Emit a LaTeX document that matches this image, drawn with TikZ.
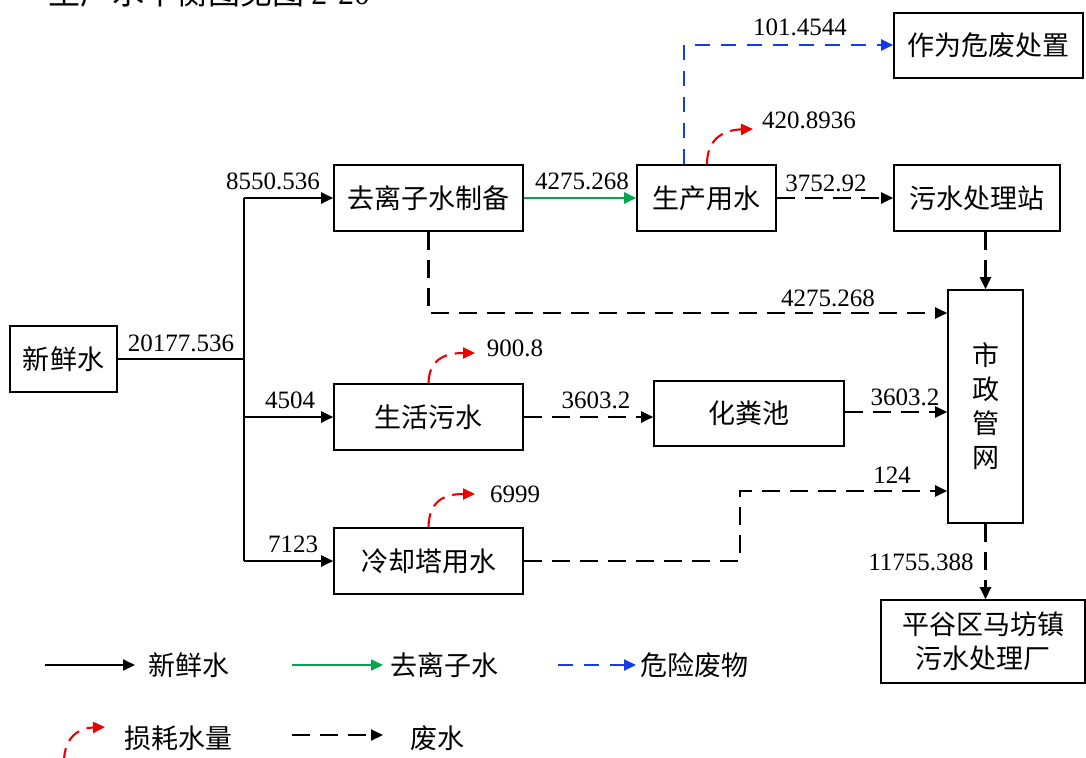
\documentclass[tikz,border=0pt]{standalone}
\usepackage{fontspec}
\setmainfont{Liberation Serif}
\newfontfamily\cjk{Noto Sans CJK SC}
\usetikzlibrary{arrows.meta}
\definecolor{fgreen}{RGB}{0,166,80}
\definecolor{fblue}{RGB}{20,60,230}
\definecolor{fred}{RGB}{235,0,0}
\tikzset{
  box/.style={draw, line width=1.6pt, inner sep=0pt, align=center,
    font=\cjk\fontsize{27}{34}\selectfont},
  num/.style={inner sep=0pt, font=\fontsize{25}{25}\selectfont},
  legtext/.style={anchor=west, inner sep=0pt, font=\cjk\fontsize{27}{30}\selectfont},
  tip/.style={-{Triangle[length=12pt,width=11pt]}},
  fresh/.style={tip, line width=2.1pt, black},
  deio/.style={tip, line width=2.1pt, fgreen},
  hazw/.style={tip, line width=2.1pt, fblue, dash pattern=on 15pt off 11pt},
  waste/.style={tip, line width=2.1pt, black, dash pattern=on 18pt off 10pt},
  loss/.style={tip, line width=2.1pt, fred, dash pattern=on 14pt off 8pt},
}
\begin{document}
\begin{tikzpicture}[x=1pt,y=-1pt]
\useasboundingbox (0,0) rectangle (1086,757);

% partially cut-off caption line
\node[anchor=base west, inner sep=0pt, font=\cjk\fontsize{32}{32}\selectfont] (cap) at (48,5) {生产水平衡图见图 {\rmfamily 2-20}};

% boxes
\node[box, minimum width=107pt, minimum height=66pt] (fw) at (63.5,359) {新鲜水};
\node[box, minimum width=189pt, minimum height=66pt] (deion) at (428.5,198) {去离子水制备};
\node[box, minimum width=139pt, minimum height=66pt] (prod) at (706.5,198) {生产用水};
\node[box, minimum width=189pt, minimum height=65pt] (haz) at (988.5,45.5) {作为危废处置};
\node[box, minimum width=166pt, minimum height=66pt] (sst) at (977,198) {污水处理站};
\node[box, minimum width=75pt, minimum height=233pt] (muni) at (985.5,406.5) {市\\政\\管\\网};
\node[box, minimum width=189pt, minimum height=66pt] (dom) at (428.5,417) {生活污水};
\node[box, minimum width=190pt, minimum height=65pt] (sep) at (749,413.5) {化粪池};
\node[box, minimum width=189pt, minimum height=66pt] (cool) at (428.5,561) {冷却塔用水};
\node[box, minimum width=204pt, minimum height=83pt] (plant) at (983,641.5) {平谷区马坊镇\\污水处理厂};

% helper coordinates
\coordinate (trunk) at (244,359);
\coordinate (ytop) at (0,45);
\coordinate (y313) at (0,313);
\coordinate (y412) at (0,412);
\coordinate (y491) at (0,491);
\coordinate (xbend) at (740,0);
\coordinate (hazx) at (684,0);
\coordinate (lossx) at (707,0);
\coordinate (lp) at (753,129);
\coordinate (ld) at (475,353);
\coordinate (lc) at (475,494);

% fresh water distribution
\draw[line width=2.1pt] (fw.east |- trunk) -- (trunk);
\draw[line width=2.1pt] (trunk |- deion.west) -- (trunk |- cool.west);
\draw[fresh] (trunk |- deion.west) -- (deion.west);
\draw[fresh] (trunk |- dom.west) -- (dom.west);
\draw[fresh] (trunk |- cool.west) -- (cool.west);

% deionised water
\draw[deio] (deion.east) -- (prod.west);

% hazardous waste
\draw[hazw] (prod.north -| hazx) |- (haz.west |- ytop);

% losses
\draw[loss] (prod.north -| lossx) .. controls (707,140) and (722,130) .. (lp);
\draw[loss] (dom.north) .. controls (429,360) and (444,353) .. (ld);
\draw[loss] (cool.north) .. controls (429,501) and (444,494) .. (lc);

% waste water
\draw[waste] (prod.east) -- (sst.west);
\draw[waste] (sst.south -| muni.north) -- (muni.north);
\draw[waste] (deion.south) |- (muni.west |- y313);
\draw[waste] (dom.east) -- (sep.west |- dom.east);
\draw[waste] (sep.east |- y412) -- (muni.west |- y412);
\draw[waste] (cool.east) -| (xbend |- y491) -- (muni.west |- y491);
\draw[waste] (muni.south) -- (plant.north -| muni.south);

% numbers
\node[num] (n1) at (273,181) {8550.536};
\node[num] (n2) at (582,181) {4275.268};
\node[num] (n3) at (826,183) {3752.92};
\node[num] (n4) at (800,27) {101.4544};
\node[num] (n5) at (809,120) {420.8936};
\node[num] (n6) at (828,298) {4275.268};
\node[num] (n7) at (181,343) {20177.536};
\node[num] (n8) at (290,400) {4504};
\node[num] (n9) at (515,348) {900.8};
\node[num] (n10) at (596,400) {3603.2};
\node[num] (n11) at (905,397) {3603.2};
\node[num] (n12) at (892,475) {124};
\node[num] (n13) at (515,494) {6999};
\node[num] (n14) at (293,544) {7123};
\node[num] (n15) at (921,562) {11755.388};

% legend
\coordinate (a1) at (45,665); \coordinate (a2) at (135,665);
\coordinate (b1) at (292,665); \coordinate (b2) at (383,665);
\coordinate (c1) at (558,665); \coordinate (c2) at (636,665);
\coordinate (d1) at (64,762); \coordinate (d2) at (105,727);
\coordinate (e1) at (292,735); \coordinate (e2) at (383,735);
\draw[fresh] (a1) -- (a2);
\node[legtext] (t1) at (148,665) {新鲜水};
\draw[deio] (b1) -- (b2);
\node[legtext] (t2) at (390,665) {去离子水};
\draw[hazw] (c1) -- (c2);
\node[legtext] (t3) at (640,665) {危险废物};
\draw[loss] (d1) .. controls (64,738) and (78,728) .. (d2);
\node[legtext] (t4) at (124,738) {损耗水量};
\draw[waste] (e1) -- (e2);
\node[legtext] (t5) at (410,738) {废水};
\end{tikzpicture}
\end{document}
